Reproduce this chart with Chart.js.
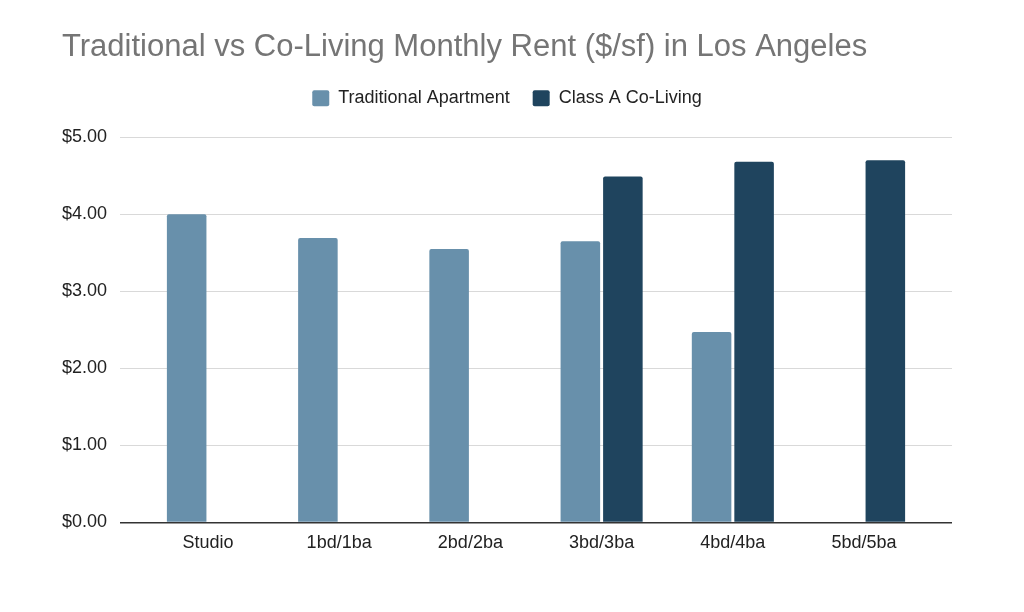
<!DOCTYPE html>
<html>
<head>
<meta charset="utf-8">
<script src="https://cdn.jsdelivr.net/npm/chart.js@4"></script>
<style>
  html, body { margin: 0; padding: 0; background: #ffffff; }
  #wrap { width: 1024px; height: 612px; position: relative; }
</style>
</head>
<body>
<div id="wrap"><canvas id="c" width="1024" height="612"></canvas></div>
<script>
const chartTitle = 'Traditional vs Co-Living Monthly Rent ($/sf) in Los Angeles';
const categories = ['Studio', '1bd/1ba', '2bd/2ba', '3bd/3ba', '4bd/4ba', '5bd/5ba'];
const seriesNames = ['Traditional Apartment', 'Class A Co-Living'];
const traditional = [4.00, 3.69, 3.55, 3.65, 2.47, null];
const coLiving = [null, null, null, 4.49, 4.68, 4.70];
const yTicks = [0, 1, 2, 3, 4, 5];

const legendGap = {
  id: 'legendGap',
  beforeLayout(chart) {
    if (chart.legend && !chart.legend._gapPatched) {
      const orig = chart.legend.fit;
      chart.legend.fit = function () { orig.call(this); this.height += 20; };
      chart.legend._gapPatched = true;
    }
  }
};

new Chart(document.getElementById('c'), {
  type: 'bar',
  data: {
    labels: categories.map((_, i) => i),
    datasets: [
      { label: seriesNames[0], data: traditional, backgroundColor: '#6890ab', borderWidth: 0, borderRadius: 2, borderSkipped: 'bottom' },
      { label: seriesNames[1], data: coLiving, backgroundColor: '#1f445e', borderWidth: 0, borderRadius: 2, borderSkipped: 'bottom' }
    ]
  },
  options: {
    responsive: false,
    animation: false,
    devicePixelRatio: 1,
    categoryPercentage: 0.648,
    barPercentage: 0.93,
    layout: { padding: { top: 0, left: 62, right: 72, bottom: 56 } },
    plugins: {
      title: {
        display: true,
        text: chartTitle,
        align: 'start',
        color: '#757575',
        font: { family: '"Liberation Sans", Arial, sans-serif', size: 31, weight: 'normal' },
        padding: { top: 29, bottom: 0 }
      },
      legend: {
        display: true,
        position: 'top',
        align: 'center',
        labels: {
          boxWidth: 17,
          boxHeight: 16,
          padding: 23,
          color: '#222222',
          useBorderRadius: true,
          borderRadius: 2,
          font: { family: '"Liberation Sans", Arial, sans-serif', size: 18 }
        }
      },
      tooltip: { enabled: false }
    },
    scales: {
      x: {
        type: 'linear',
        min: -0.67,
        max: 5.67,
        offset: false,
        grid: { display: false, offset: false },
        border: { display: false },
        ticks: {
          stepSize: 1,
          includeBounds: false,
          autoSkip: false,
          maxRotation: 0,
          padding: 2,
          color: '#222222',
          font: { family: '"Liberation Sans", Arial, sans-serif', size: 18 },
          callback: (v) => (Number.isInteger(v) && categories[v] !== undefined) ? categories[v] : ''
        }
      },
      y: {
        min: 0,
        max: 5,
        border: { display: false },
        grid: {
          drawTicks: false,
          color: (ctx) => (ctx.tick && ctx.tick.value === 0) ? '#333333' : '#d9d9d9',
          lineWidth: (ctx) => (ctx.tick && ctx.tick.value === 0) ? 1.5 : 1
        },
        afterFit: (scale) => { scale.width = 58; },
        afterBuildTicks: (scale) => { scale.ticks = yTicks.map(v => ({ value: v })); },
        ticks: {
          padding: 13,
          color: '#222222',
          font: { family: '"Liberation Sans", Arial, sans-serif', size: 18 },
          callback: (v) => '$' + Number(v).toFixed(2)
        }
      }
    }
  },
  plugins: [legendGap]
});
</script>
</body>
</html>
